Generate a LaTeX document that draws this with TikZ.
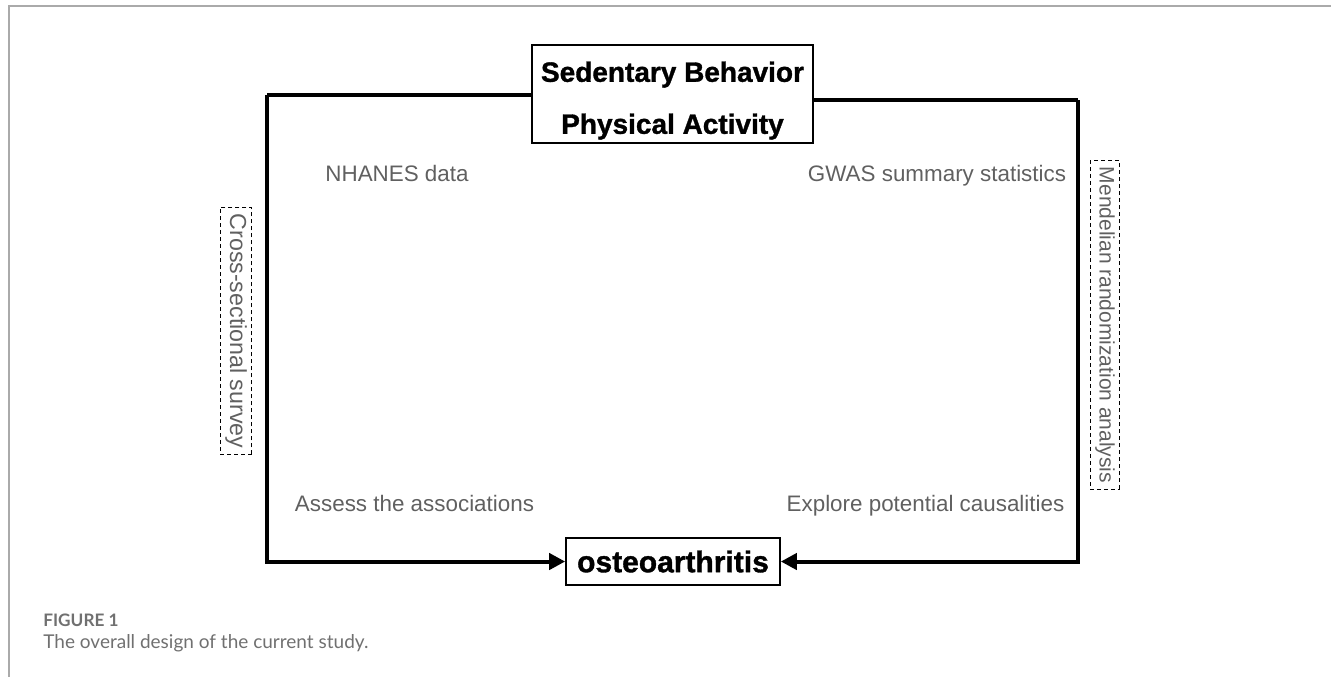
\documentclass[tikz,border=0pt]{standalone}
\usepackage{fontspec}
\setmainfont{Liberation Sans}
\newfontfamily\heavyfont[BoldFeatures={FakeBold=1.2}]{Liberation Sans}
\newfontfamily\capfont{Lato}
\usetikzlibrary{arrows.meta}
\definecolor{labelgray}{HTML}{606060}
\definecolor{framegray}{HTML}{AAAAAA}
\definecolor{capgray}{HTML}{707070}
\tikzset{
  mainbox/.style={draw=black, line width=0.8pt, font=\heavyfont\bfseries\fontsize{14}{26}\selectfont, align=center, inner sep=0pt},
  flow/.style={line width=2pt},
  flowarrow/.style={line width=2pt, -{Triangle[length=8pt,width=8pt]}},
  graylabel/.style={text=labelgray, font=\fontsize{11.2}{13}\selectfont, inner sep=0pt, anchor=base},
  sidelabel/.style={text=labelgray, draw=black, dashed, dash pattern=on 2pt off 1.5pt, line width=0.4pt, rotate=-90, inner xsep=3pt, inner ysep=2.5pt},
  frameline/.style={draw=framegray, line width=0.8pt}
}
\begin{document}
\begin{tikzpicture}[x=0.5pt,y=-0.5pt]
\useasboundingbox (0,0) rectangle (1331,677);
% frame
\coordinate (fTL) at (9,6);
\coordinate (fTR) at (1331,6);
\coordinate (fBL) at (9,677);
\draw[frameline] (fTR) -- (fTL) -- (fBL);
% nodes
\node[mainbox, minimum width=140.5pt, minimum height=49pt] (top) at (672.5,94) {\rule{0pt}{16.7pt}Sedentary Behavior\\Physical Activity};
\node[mainbox, font=\heavyfont\bfseries\fontsize{15}{18}\selectfont, minimum width=107pt, minimum height=23.5pt] (oa) at (673,561.5) {osteoarthritis};
% corners
\coordinate (cL) at (267,95);
\coordinate (cR) at (1078,100);
% connectors
\draw[flow] (top.west |- cL) -- (cL);
\draw[flowarrow] (cL) |- (oa.west);
\draw[flow] (top.east |- cR) -- (cR);
\draw[flowarrow] (cR) |- (oa.east);
% labels
\node[graylabel] (nh) at (397,181) {NHANES data};
\node[graylabel] (gw) at (937,181) {GWAS summary statistics};
\node[graylabel] (as) at (414.5,511) {Assess the associations};
\node[graylabel] (ex) at (925.5,511) {Explore potential causalities};
\node[sidelabel, font=\fontsize{11.6}{13}\selectfont] (cs) at (236,331) {Cross-sectional survey};
\node[sidelabel, font=\fontsize{10.5}{13}\selectfont] (mr) at (1105,325) {Mendelian randomization analysis};
% caption
\node[anchor=west, inner sep=0pt, text=capgray, font=\capfont\bfseries\fontsize{8.6}{9}\selectfont] (fig) at (43,620) {FIGURE 1};
\node[anchor=west, inner sep=0pt, text=capgray, font=\capfont\fontsize{9.5}{11}\selectfont] (cap) at (43,643) {The overall design of the current study.};
\end{tikzpicture}
\end{document}
